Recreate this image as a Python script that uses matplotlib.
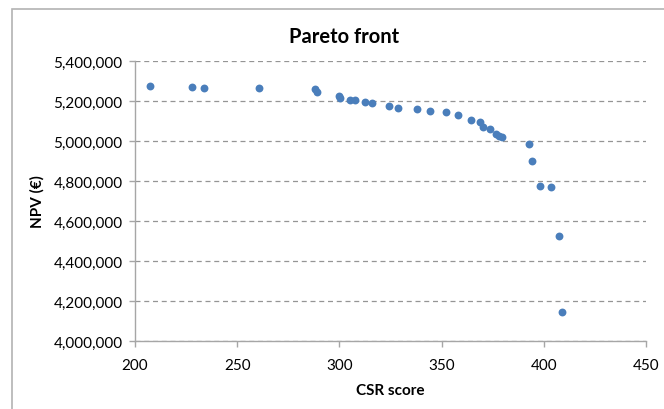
import matplotlib
matplotlib.use("Agg")
import matplotlib.pyplot as plt
from matplotlib.patches import Rectangle
from matplotlib.ticker import FuncFormatter

plt.rcParams['font.family'] = ['Lato', 'DejaVu Sans']

csr = [207.3, 227.9, 233.7, 260.5, 287.9, 289.0, 299.7, 300.5, 305.3, 307.7,
       312.6, 316.0, 324.2, 328.9, 338.0, 344.2, 352.0, 358.2, 364.4, 368.7,
       370.2, 373.6, 376.5, 378.1, 379.5, 392.9, 394.2, 398.1, 403.5, 407.2,
       408.7]
npv = [5275000, 5270000, 5267000, 5265000, 5262000, 5247000, 5227000, 5213000,
       5203000, 5203000, 5195000, 5190000, 5173000, 5165000, 5160000, 5150000,
       5145000, 5132000, 5105000, 5093000, 5070000, 5060000, 5035000, 5023000,
       5018000, 4985000, 4901000, 4775000, 4771000, 4526000, 4146000]

xticks = [200, 250, 300, 350, 400, 450]
yticks = [4000000, 4200000, 4400000, 4600000, 4800000, 5000000, 5200000, 5400000]

fig = plt.figure(figsize=(6.64, 4.10), dpi=100)
# chart area frame (runs off the right and bottom edge)
fig.patches.append(Rectangle((12 / 664, -0.1), 1.0, 400 / 410 + 0.1,
                             transform=fig.transFigure, fill=False,
                             edgecolor='#b3b3b3', linewidth=1.2))
ax = fig.add_axes([135 / 664, 68 / 410, 511 / 664, 280 / 410])

ax.scatter(csr, npv, s=32, color='#4a7ebb', zorder=3, linewidths=0)

ax.set_xlim(200, 450)
ax.set_ylim(4000000, 5400000)
ax.set_xticks(xticks)
ax.set_yticks(yticks)
ax.yaxis.set_major_formatter(FuncFormatter(lambda v, p: f'{int(v):,}'))
ax.grid(axis='y', color='#959595', linestyle=(0, (4, 3)), linewidth=0.9)
ax.set_axisbelow(True)

for s in ['top', 'right']:
    ax.spines[s].set_visible(False)
for s in ['left', 'bottom']:
    ax.spines[s].set_color('#a6a6a6')
    ax.spines[s].set_linewidth(1.0)
ax.tick_params(colors='#a6a6a6', length=4, width=1.0, labelcolor='black',
               labelsize=11)
ax.tick_params(axis='x', pad=8)
ax.tick_params(axis='y', pad=5)

ax.set_xlabel('CSR score', fontsize=11, fontweight='bold', labelpad=8)
ax.set_ylabel('NPV (€)', fontsize=11, fontweight='bold', labelpad=6)
fig.text(344 / 664, 1 - 37 / 410, 'Pareto front', fontsize=14.5,
         fontweight='bold', ha='center', va='center')

fig.savefig('out.png', dpi=100)
